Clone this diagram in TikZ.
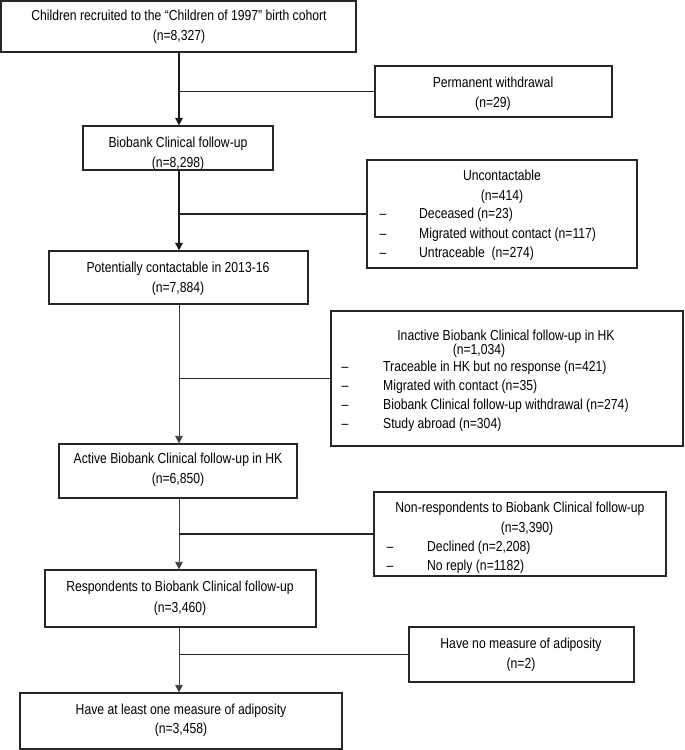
\documentclass[tikz,border=0pt]{standalone}
\usepackage{fontspec}
\setmainfont{Liberation Sans}[FakeStretch=0.84]
\usetikzlibrary{arrows.meta}
\begin{document}
\begin{tikzpicture}[x=1pt,y=-1pt,
  box/.style={draw=black!85, line width=1.2pt, inner sep=0pt},
  txt/.style={inner sep=0pt, text height=10pt, text depth=0pt, text=black, font=\fontsize{14.5}{17}\selectfont},
  main/.style={draw=black!90, line width=1.5pt, -{Triangle[width=7.5pt,length=7.5pt]}},
  thin/.style={draw=black!75, line width=0.8pt, -{Triangle[width=7.5pt,length=7.5pt]}},
  branch/.style={draw=black!85, line width=1.2pt}]
\useasboundingbox (0,0) rectangle (685,750);
\coordinate (spine) at (179,0);
% main column
\node[box, minimum width=355pt, minimum height=51pt] (B1) at (178.5,26.5) {};
\node[txt] (B1a) at (179,15) {Children recruited to the “Children of 1997” birth cohort};
\node[txt] (B1b) at (179,35) {(n=8,327)};
\node[box, minimum width=190pt, minimum height=44pt] (B2) at (178,148) {};
\node[txt] (B2a) at (178,142) {Biobank Clinical follow-up};
\node[txt] (B2b) at (178,162) {(n=8,298)};
\node[box, minimum width=259pt, minimum height=53pt] (B3) at (178.5,277.5) {};
\node[txt] (B3a) at (178,267) {Potentially contactable in 2013-16};
\node[txt] (B3b) at (178,287) {(n=7,884)};
\node[box, minimum width=238pt, minimum height=54pt] (B4) at (178,471) {};
\node[txt] (B4a) at (178,458) {Active Biobank Clinical follow-up in HK};
\node[txt] (B4b) at (178,478) {(n=6,850)};
\node[box, minimum width=271pt, minimum height=57pt] (B5) at (180.5,598.5) {};
\node[txt] (B5a) at (180,586) {Respondents to Biobank Clinical follow-up};
\node[txt] (B5b) at (180,607) {(n=3,460)};
\node[box, minimum width=322pt, minimum height=56pt] (B6) at (181,721) {};
\node[txt] (B6a) at (181,709) {Have at least one measure of adiposity};
\node[txt] (B6b) at (181,728) {(n=3,458)};
% side boxes
\node[box, minimum width=237pt, minimum height=51pt] (P) at (493.5,91.5) {};
\node[txt] (Pa) at (493,82) {Permanent withdrawal};
\node[txt] (Pb) at (493,102) {(n=29)};
\node[box, minimum width=270pt, minimum height=108pt] (U) at (502,214) {};
\node[txt] (Ua) at (502,175) {Uncontactable};
\node[txt] (Ub) at (502,195) {(n=414)};
\node[txt] (Ud1) at (383,213) {\textendash};
\node[txt] (Ud2) at (383,233) {\textendash};
\node[txt] (Ud3) at (383,252) {\textendash};
\node[txt, anchor=west] (Ui1) at (419,213) {Deceased (n=23)};
\node[txt, anchor=west] (Ui2) at (419,233) {Migrated without contact (n=117)};
\node[txt, anchor=west] (Ui3) at (419,252) {Untraceable~ (n=274)};
\node[box, minimum width=352pt, minimum height=135pt] (I) at (507,378.5) {};
\node[txt] (Ia) at (506,335) {Inactive Biobank Clinical follow-up in HK};
\node[txt] (Ib) at (479,349) {(n=1,034)};
\node[txt] (Id1) at (345,366) {\textendash};
\node[txt] (Id2) at (345,385) {\textendash};
\node[txt] (Id3) at (345,404) {\textendash};
\node[txt] (Id4) at (345,423) {\textendash};
\node[txt, anchor=west] (Ii1) at (383,366) {Traceable in HK but no response (n=421)};
\node[txt, anchor=west] (Ii2) at (383,385) {Migrated with contact (n=35)};
\node[txt, anchor=west] (Ii3) at (383,404) {Biobank Clinical follow-up withdrawal (n=274)};
\node[txt, anchor=west] (Ii4) at (383,423) {Study abroad (n=304)};
\node[box, minimum width=292pt, minimum height=84pt] (N) at (520,534) {};
\node[txt] (Na) at (520,507) {Non-respondents to Biobank Clinical follow-up};
\node[txt] (Nb) at (527,527) {(n=3,390)};
\node[txt] (Nd1) at (390,546) {\textendash};
\node[txt] (Nd2) at (390,565) {\textendash};
\node[txt, anchor=west] (Ni1) at (427,546) {Declined (n=2,208)};
\node[txt, anchor=west] (Ni2) at (427,565) {No reply (n=1182)};
\node[box, minimum width=225pt, minimum height=55pt] (M) at (521.5,654.5) {};
\node[txt] (Ma) at (521,643) {Have no measure of adiposity};
\node[txt] (Mb) at (521,663) {(n=2)};
% connectors
\draw[main] (B1.south -| spine) -- (B2.north -| spine);
\draw[main] (B2.south -| spine) -- (B3.north -| spine);
\draw[thin] (B3.south -| spine) -- (B4.north -| spine);
\draw[thin] (B4.south -| spine) -- (B5.north -| spine);
\draw[thin] (B5.south -| spine) -- (B6.north -| spine);
\draw[branch] (P.west) -- (P.west -| spine);
\draw[branch] (U.west) -- (U.west -| spine);
\draw[branch] (I.west) -- (I.west -| spine);
\draw[branch] (N.west) -- (N.west -| spine);
\draw[branch] (M.west) -- (M.west -| spine);
\end{tikzpicture}
\end{document}
